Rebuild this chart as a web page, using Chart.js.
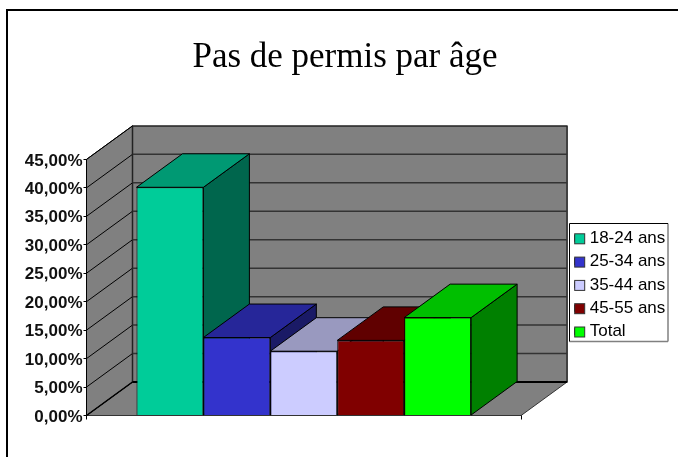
<!DOCTYPE html>
<html>
<head>
<meta charset="utf-8">
<style>
  html, body { margin: 0; padding: 0; background: #fff; }
  canvas { display: block; }
</style>
<script src="https://cdn.jsdelivr.net/npm/chart.js@4"></script>
</head>
<body>
<canvas id="chart" width="678" height="457"></canvas>
<script>
const chartTitle = "Pas de permis par âge";
const categories = [""];
const seriesNames = ["18-24 ans", "25-34 ans", "35-44 ans", "45-55 ans", "Total"];
const seriesValues = [40.1, 13.7, 11.3, 13.2, 17.2];
const seriesColors = ["#00cc99", "#3333cc", "#ccccff", "#800000", "#00ff00"];
const yTickLabels = ["0,00%", "5,00%", "10,00%", "15,00%", "20,00%", "25,00%", "30,00%", "35,00%", "40,00%", "45,00%"];

// the fake 3D depth, same for walls and bars
const depthX = 46;
const depthY = 33.5;

function shade(hex, f) {
  const n = parseInt(hex.slice(1), 16);
  const r = Math.round((n >> 16) * f);
  const g = Math.round(((n >> 8) & 255) * f);
  const b = Math.round((n & 255) * f);
  return `rgb(${r},${g},${b})`;
}

function face(ctx, pts, fill, stroke, width) {
  ctx.beginPath();
  pts.forEach((p, i) => (i ? ctx.lineTo(p[0], p[1]) : ctx.moveTo(p[0], p[1])));
  ctx.closePath();
  ctx.fillStyle = fill;
  ctx.fill();
  ctx.strokeStyle = stroke;
  ctx.lineWidth = width;
  ctx.stroke();
}

function line(ctx, x1, y1, x2, y2, color, width) {
  ctx.beginPath();
  ctx.moveTo(x1, y1);
  ctx.lineTo(x2, y2);
  ctx.strokeStyle = color;
  ctx.lineWidth = width;
  ctx.stroke();
}

const frame3d = {
  id: "frame3d",
  afterLayout(chart) {
    // title is centred on the frame, legend sits beside the back wall
    chart.titleBlock.left = 12;
    chart.titleBlock.right = 678;
    chart.legend.left = 568.4;
    chart.legend.right = 678;
    chart.legend.top = 223.5;
    chart.legend.bottom = 362;
  },
  beforeDraw(chart) {
    const ctx = chart.ctx;
    ctx.save();
    // outer frame runs off the right and bottom of the picture
    line(ctx, 7, 457, 7, 10, "#000", 2);
    line(ctx, 6, 10, 678, 10, "#000", 2);
    // legend box
    ctx.fillStyle = "#fff";
    ctx.fillRect(569.5, 223.5, 98.5, 118);
    line(ctx, 569.5, 341.5, 668, 341.5, "#808080", 1.5);
    line(ctx, 668, 341.5, 668, 223.5, "#808080", 1.5);
    line(ctx, 569.5, 223.5, 668, 223.5, "#000", 1);
    line(ctx, 569.5, 223.5, 569.5, 341.5, "#000", 1);
    ctx.restore();
  },
  beforeDatasetsDraw(chart) {
    const ctx = chart.ctx;
    const y = chart.scales.y;
    const x = chart.scales.x;
    const top = y.getPixelForValue(y.max);
    const base = y.getPixelForValue(y.min);
    ctx.save();
    ctx.lineJoin = "round";
    // floor, side wall, back wall
    face(ctx, [[x.left, base], [x.left + depthX, base - depthY], [x.right + depthX, base - depthY], [x.right, base]], "#808080", "#333", 1);
    face(ctx, [[x.left, base], [x.left, top], [x.left + depthX, top - depthY], [x.left + depthX, base - depthY]], "#808080", "#000", 1);
    face(ctx, [[x.left + depthX, top - depthY], [x.right + depthX, top - depthY], [x.right + depthX, base - depthY], [x.left + depthX, base - depthY]], "#808080", "#222", 1.5);
    y.ticks.forEach((t) => {
      const py = y.getPixelForValue(t.value);
      if (t.value > y.min) {
        line(ctx, x.left, py, x.left + depthX, py - depthY, "#000", 1);
        if (t.value < y.max) line(ctx, x.left + depthX, py - depthY, x.right + depthX, py - depthY, "#333", 1.5);
      }
    });
    line(ctx, x.left, base, x.left + depthX, base - depthY, "#000", 1.5);
    line(ctx, x.left + depthX, base - depthY, x.right + depthX, base - depthY, "#000", 2);
    ctx.restore();
  },
  // bars have to be painted left to right so the nearer ones cover the depth of the previous
  beforeDatasetDraw() {
    return false;
  },
  afterDatasetsDraw(chart) {
    const ctx = chart.ctx;
    seriesColors.forEach((color, i) => {
      const bar = chart.getDatasetMeta(i).data[0];
      const l = bar.x - bar.width / 2;
      const r = bar.x + bar.width / 2;
      ctx.save();
      ctx.lineJoin = "round";
      face(ctx, [[r, bar.y], [r + depthX, bar.y - depthY], [r + depthX, bar.base - depthY], [r, bar.base]], shade(color, 0.5), "#000", 1);
      face(ctx, [[l, bar.y], [l + depthX, bar.y - depthY], [r + depthX, bar.y - depthY], [r, bar.y]], shade(color, 0.75), "#000", 1);
      ctx.restore();
      bar.draw(ctx);
    });
  },
  afterDraw(chart) {
    // legend swatches are wider than the gap to the text allows, cover the narrow ones
    const ctx = chart.ctx;
    const lg = chart.legend;
    const pad = lg.options.labels.padding;
    ctx.save();
    lg.legendItems.forEach((item, i) => {
      ctx.fillStyle = item.fillStyle;
      ctx.strokeStyle = "#333";
      ctx.lineWidth = 1;
      ctx.fillRect(lg.left + pad, lg.top + pad + 4 + i * 23.3, 10, 10);
      ctx.strokeRect(lg.left + pad, lg.top + pad + 4 + i * 23.3, 10, 10);
    });
    ctx.restore();
  },
};

new Chart(document.getElementById("chart"), {
  type: "bar",
  data: {
    labels: categories,
    datasets: seriesNames.map((name, i) => ({
      label: name,
      data: [seriesValues[i]],
      backgroundColor: seriesColors[i],
      borderColor: "#000",
      borderWidth: 1,
      barPercentage: 1,
      categoryPercentage: 0.77,
    })),
  },
  plugins: [frame3d],
  options: {
    responsive: false,
    animation: false,
    layout: { padding: { left: 0, right: 50, top: 28, bottom: 37.5 } },
    plugins: {
      tooltip: { enabled: false },
      title: {
        display: true,
        text: chartTitle,
        color: "#000",
        font: { family: "'Liberation Serif'", size: 35, weight: "normal" },
        padding: { top: 9, bottom: 80.4 },
      },
      legend: {
        position: "right",
        align: "start",
        labels: {
          color: "#000",
          boxWidth: 6.5,
          boxHeight: 6.5,
          padding: 6.3,
          font: { family: "'Liberation Sans'", size: 17, lineHeight: 1 },
        },
      },
    },
    scales: {
      x: {
        grid: { drawOnChartArea: false, color: "#000", tickLength: 4 },
        border: { color: "#000" },
        ticks: { display: false },
      },
      y: {
        min: 0,
        max: 45,
        afterFit(scale) { scale.width = 86.5; },
        grid: { drawOnChartArea: false, color: "#000", tickLength: 3 },
        border: { color: "#000" },
        ticks: {
          stepSize: 5,
          padding: 1,
          labelOffset: 1.5,
          color: "#111",
          font: { family: "'Liberation Sans'", size: 17, weight: "bold" },
          callback: (v, i) => yTickLabels[i],
        },
      },
    },
  },
});
</script>
</body>
</html>
